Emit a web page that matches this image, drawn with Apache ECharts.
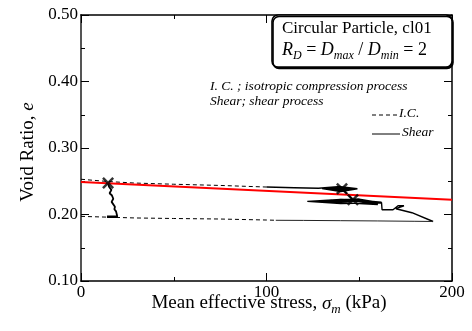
<!DOCTYPE html>
<html>
<head>
<meta charset="utf-8">
<script src="https://cdn.jsdelivr.net/npm/echarts@6/dist/echarts.min.js"></script>
<style>
html,body{margin:0;padding:0;background:#fff;}
#chart{width:472px;height:331px;}
</style>
</head>
<body>
<div id="chart"></div>
<script>
// ---- data (mean effective stress p [kPa], void ratio e) ----
const xTicks = [0, 100, 200];
const yTicks = [0.10, 0.20, 0.30, 0.40, 0.50];

const icUpper = [[0,0.2530],[15,0.2495],[29,0.2473],[50,0.2455],[75,0.2437],[100,0.2413]];
const icLower = [[0,0.1972],[29,0.1948],[50,0.1940],[75,0.1932],[100,0.1917],[105,0.1913]];

const shearDrop = [[14.6,0.2473],[15.1,0.2417],[16.4,0.2370],[15.4,0.2320],[16.6,0.2290],[17.4,0.2237],
  [16.5,0.2190],[17.0,0.2160],[18.3,0.2117],[18.0,0.2080],[18.9,0.2047],[19.4,0.1990],[19.4,0.1967]];
const shearBase = [[14.0,0.1967],[19.9,0.1967]];

const shearUpper = [[100,0.2413],[115,0.2403],[128,0.2395],[140,0.2420],[149,0.2388],[140,0.2345],
  [130,0.2390],[140,0.2412],[147,0.2386],[140,0.2358],[134,0.2388],[140,0.2402],[144,0.2386],
  [138,0.2370],[132,0.2392],[142,0.2395],[140.7,0.2387]];
const shearLower = [[140.7,0.2387],[146.6,0.2222],[162,0.2185],[140,0.2228],[122,0.2197],[140,0.2165],
  [162,0.2175],[150,0.2232],[135,0.2218],[126,0.2198],[140,0.2178],[160,0.2150],[155,0.2205],
  [140,0.2195],[130,0.2205],[145,0.2215],[158,0.2165],[162,0.2180],
  [162.3,0.2072],[168.2,0.2072],[170.9,0.2132],[174.1,0.2132],[169.8,0.2087],[178.4,0.2027],[189.8,0.1895]];
const shearReturn = [[189.8,0.1895],[180,0.1898],[160,0.1903],[140,0.1907],[120,0.1911],[105,0.1913]];

const markers = [[14.6,0.2473],[140.7,0.2387],[146.6,0.2222]];
const redLine = [[0,0.2488],[200,0.2222]];

// ---- chart ----
const serif = '"Liberation Serif","DejaVu Serif",serif';
const chart = echarts.init(document.getElementById('chart'), null, {renderer:'canvas'});

function xAx(pos, show) {
  return {
    type:'value', position:pos, min:0, max:200, interval:100,
    axisLine:{show:true, onZero:false, lineStyle:{color:'#000', width:1.5}},
    axisTick:{show:true, inside:true, length:8, lineStyle:{color:'#000', width:1}},
    minorTick:{show:true, splitNumber:2, length:4, lineStyle:{color:'#000', width:1}},
    axisLabel:{show:show, color:'#000', fontFamily:serif, fontSize:17, margin:3,
      formatter: v => xTicks.includes(v) ? String(v) : ''},
    splitLine:{show:false}
  };
}
function yAx(pos, show) {
  return {
    type:'value', position:pos, min:0.1, max:0.5, interval:0.1,
    axisLine:{show:true, onZero:false, lineStyle:{color: pos==='left' ? '#555' : '#000', width: pos==='left'?2:1.5}},
    axisTick:{show:true, inside:true, length:8, lineStyle:{color:'#000', width:1}},
    minorTick:{show:true, splitNumber:2, length:4, lineStyle:{color:'#000', width:1}},
    axisLabel:{show:show, color:'#000', fontFamily:serif, fontSize:17, margin:3,
      formatter: v => v.toFixed(2)},
    splitLine:{show:false}
  };
}

function lineS(data, opts) {
  return Object.assign({
    type:'line', data:data, symbol:'none', showSymbol:false, silent:true, animation:false,
    lineStyle:{color:'#000', width:1}, xAxisIndex:0, yAxisIndex:0, z:3
  }, opts || {});
}

chart.setOption({
  animation:false,
  backgroundColor:'#fff',
  grid:{left:81, right:20, top:15, bottom:50, containLabel:false},
  xAxis:[xAx('bottom', true), xAx('top', false)],
  yAxis:[yAx('left', true), yAx('right', false)],
  series:[
    lineS(icUpper, {lineStyle:{color:'#000', width:1, type:[4,3]}}),
    lineS(icLower, {lineStyle:{color:'#000', width:1, type:[4,3]}}),
    lineS(shearDrop, {lineStyle:{color:'#000', width:1.8}}),
    lineS(shearBase, {lineStyle:{color:'#000', width:2.4}}),
    lineS(shearUpper, {lineStyle:{color:'#000', width:1.4}}),
    lineS(shearLower, {lineStyle:{color:'#000', width:1.4}}),
    lineS(shearReturn, {lineStyle:{color:'#222', width:1}}),
    lineS(redLine, {lineStyle:{color:'#ff0000', width:2}, z:4}),
    {type:'scatter', data:markers,
     symbol:'path://M0,1.6L1.6,0L5.5,3.9L9.4,0L11,1.6L7.1,5.5L11,9.4L9.4,11L5.5,7.1L1.6,11L0,9.4L3.9,5.5Z',
     symbolSize:12, itemStyle:{color:'#000'}, silent:true, z:5}
  ],
  graphic:[
    {type:'rect', shape:{x:272, y:15, width:180, height:52, r:6},
     style:{fill:'#fff', stroke:'#000', lineWidth:1.6, shadowColor:'#000', shadowOffsetX:1, shadowOffsetY:1.5, shadowBlur:0}, z:10},
    {type:'text', left:282, top:20, z:11,
     style:{text:'Circular Particle, cl01', fontFamily:serif, fontSize:17, fill:'#000'}},
    {type:'text', left:282, top:41, z:11,
     style:{text:'{i|R}{s|D}{n| = }{i|D}{s|max}{n| / }{i|D}{s|min}{n| = 2}',
       rich:{
         i:{fontFamily:serif, fontSize:18, fontStyle:'italic', color:'#000', lineHeight:22, verticalAlign:'bottom'},
         n:{fontFamily:serif, fontSize:18, color:'#000', lineHeight:22, verticalAlign:'bottom'},
         s:{fontFamily:serif, fontSize:12, fontStyle:'italic', color:'#000', lineHeight:12, verticalAlign:'bottom', padding:[0,0,-3,0]}
       }}},
    {type:'text', left:210, top:79, z:11,
     style:{text:'I. C. ; isotropic compression process', fontFamily:serif, fontSize:13.5, fontStyle:'italic', fill:'#000'}},
    {type:'text', left:210, top:94, z:11,
     style:{text:'Shear; shear process', fontFamily:serif, fontSize:13.5, fontStyle:'italic', fill:'#000'}},
    {type:'line', shape:{x1:372, y1:115, x2:398, y2:115}, style:{stroke:'#000', lineWidth:1, lineDash:[4,3]}, z:11},
    {type:'text', left:399, top:106, z:11,
     style:{text:'I.C.', fontFamily:serif, fontSize:13.5, fontStyle:'italic', fill:'#000'}},
    {type:'line', shape:{x1:372, y1:134, x2:400, y2:134}, style:{stroke:'#000', lineWidth:1}, z:11},
    {type:'text', left:402, top:125, z:11,
     style:{text:'Shear', fontFamily:serif, fontSize:13.5, fontStyle:'italic', fill:'#000'}},
    {type:'text', x:28, y:152, rotation:Math.PI/2, z:11,
     style:{text:'{n|Void Ratio, }{i|e}', align:'center', verticalAlign:'middle',
       rich:{n:{fontFamily:serif, fontSize:19, color:'#000'}, i:{fontFamily:serif, fontSize:19, fontStyle:'italic', color:'#000'}}}},
    {type:'text', x:269, y:302, z:11,
     style:{text:'{n|Mean effective stress, }{i|σ}{s|m}{n| (kPa)}', align:'center', verticalAlign:'middle',
       rich:{
         n:{fontFamily:serif, fontSize:19, color:'#000', lineHeight:22, verticalAlign:'bottom'},
         i:{fontFamily:serif, fontSize:19, fontStyle:'italic', color:'#000', lineHeight:22, verticalAlign:'bottom'},
         s:{fontFamily:serif, fontSize:13, fontStyle:'italic', color:'#000', lineHeight:12, verticalAlign:'bottom', padding:[0,0,-3,0]}
       }}}
  ]
});
</script>
</body>
</html>
